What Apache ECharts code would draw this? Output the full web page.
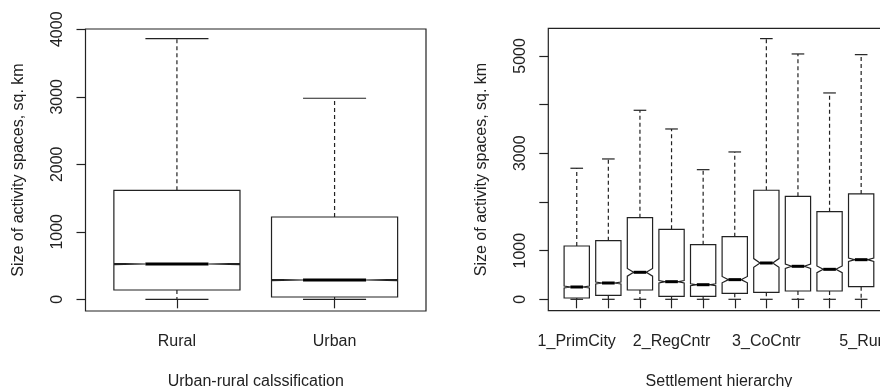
<!DOCTYPE html>
<html>
<head>
<meta charset="utf-8">
<script src="https://cdn.jsdelivr.net/npm/echarts@6/dist/echarts.min.js"></script>
<style>
html,body{margin:0;padding:0;background:#fff;}
#chart{width:880px;height:387px;}
</style>
</head>
<body>
<div id="chart"></div>
<script>
// Left panel: urban-rural classification
const catsLeft = ['Rural', 'Urban'];
const lowLeft = [0, 0];
const q1Left = [138, 34];
const medLeft = [523, 286];
const q3Left = [1615, 1219];
const highLeft = [3861, 2978];
const notchLeft = [10, 8];
const yTicksLeft = [0, 1000, 2000, 3000, 4000];
const yLabelsLeft = [0, 1000, 2000, 3000, 4000];

// Right panel: settlement hierarchy
const catsRight = ['1_PrimCity', '1_PrimSubr', '2_RegCity', '2_RegCntr', '2_RegSubr',
                   '3_CoCity', '3_CoCntr', '4_SmTown', '4_Village', '5_Rur'];
const lowRight = [0, 0, 0, 0, 0, 0, 0, 0, 0, 0];
const q1Right = [27, 82, 191, 62, 62, 123, 144, 171, 171, 259];
const medRight = [253, 335, 555, 362, 300, 404, 746, 678, 616, 814];
const q3Right = [1095, 1204, 1677, 1438, 1122, 1287, 2240, 2116, 1800, 2164];
const highRight = [2692, 2883, 3883, 3499, 2663, 3027, 5355, 5040, 4239, 5026];
const notchRight = [20, 20, 80, 25, 20, 65, 90, 45, 70, 35];
const yTicksRight = [0, 1000, 2000, 3000, 4000, 5000];
const yLabelsRight = [0, 1000, 3000, 5000];
const shownRight = [1, 4, 7, 10];

const FONT = 'Liberation Sans, Arial, sans-serif';
const INK = '#222';

function buildData(low, q1, med, q3, high, notch) {
  return low.map((v, i) => [i + 1, low[i], q1[i], med[i], q3[i], high[i], notch[i]]);
}

function renderBox(params, api) {
  const x = api.value(0);
  const low = api.value(1), q1 = api.value(2), med = api.value(3),
        q3 = api.value(4), high = api.value(5), n = api.value(6);
  const P = (dx, y) => api.coord([x + dx, y]);
  const hw = 0.4, nw = 0.2, cw = 0.2;
  const outline = [P(-hw, q1), P(hw, q1), P(hw, med - n), P(nw, med), P(hw, med + n),
                   P(hw, q3), P(-hw, q3), P(-hw, med + n), P(-nw, med), P(-hw, med - n)];
  const line = (a, b, style) => ({type: 'line', shape: {x1: a[0], y1: a[1], x2: b[0], y2: b[1]}, style});
  const thin = {stroke: INK, lineWidth: 1.2};
  const dash = {stroke: INK, lineWidth: 1.2, lineDash: [4, 3]};
  return {
    type: 'group',
    children: [
      line(P(0, q3), P(0, high), dash),
      line(P(0, q1), P(0, low), dash),
      line(P(-cw, high), P(cw, high), thin),
      line(P(-cw, low), P(cw, low), thin),
      {type: 'polygon', shape: {points: outline}, style: {fill: '#fff', stroke: INK, lineWidth: 1.2}},
      line(P(-nw, med), P(nw, med), {stroke: '#000', lineWidth: 3})
    ]
  };
}

const labelStyle = {fontFamily: FONT, fontSize: 16, color: INK};
const plain = v => String(v);

const option = {
  animation: false,
  backgroundColor: '#fff',
  textStyle: {fontFamily: FONT},
  grid: [
    {left: 85.5, top: 29, width: 340.5, height: 282, show: true, borderColor: INK, borderWidth: 1.2, containLabel: false, outerBoundsMode: 'none'},
    {left: 548.3, top: 28.3, width: 341.3, height: 282.4, show: true, borderColor: INK, borderWidth: 1.2, containLabel: false, outerBoundsMode: 'none'}
  ],
  xAxis: [
    {
      type: 'value', gridIndex: 0, min: 0.42, max: 2.58,
      axisLine: {show: false}, splitLine: {show: false},
      axisTick: {show: true, length: 9, customValues: catsLeft.map((c, i) => i + 1), lineStyle: {color: INK, width: 1.2}},
      axisLabel: Object.assign({customValues: catsLeft.map((c, i) => i + 1), formatter: v => catsLeft[Math.round(v) - 1], margin: 23}, labelStyle),
      name: 'Urban-rural calssification', nameLocation: 'middle', nameGap: 63, nameTextStyle: labelStyle
    },
    {
      type: 'value', gridIndex: 1, min: 0.1, max: 10.9,
      axisLine: {show: false}, splitLine: {show: false},
      axisTick: {show: true, length: 9, customValues: catsRight.map((c, i) => i + 1), lineStyle: {color: INK, width: 1.2}},
      axisLabel: Object.assign({customValues: shownRight, formatter: v => catsRight[Math.round(v) - 1], margin: 23}, labelStyle),
      name: 'Settlement hierarchy', nameLocation: 'middle', nameGap: 63, nameTextStyle: labelStyle
    }
  ],
  yAxis: [
    {
      type: 'value', gridIndex: 0, min: -173, max: 4004,
      axisLine: {show: false}, splitLine: {show: false},
      axisTick: {show: true, length: 9, customValues: yTicksLeft, lineStyle: {color: INK, width: 1.2}},
      axisLabel: Object.assign({customValues: yLabelsLeft, formatter: plain, rotate: 90, margin: 20}, labelStyle),
      name: 'Size of activity spaces, sq. km', nameLocation: 'middle', nameGap: 59, nameTextStyle: labelStyle
    },
    {
      type: 'value', gridIndex: 1, min: -234, max: 5567,
      axisLine: {show: false}, splitLine: {show: false},
      axisTick: {show: true, length: 9, customValues: yTicksRight, lineStyle: {color: INK, width: 1.2}},
      axisLabel: Object.assign({customValues: yLabelsRight, formatter: plain, rotate: 90, margin: 20}, labelStyle),
      name: 'Size of activity spaces, sq. km', nameLocation: 'middle', nameGap: 59, nameTextStyle: labelStyle
    }
  ],
  series: [
    {
      type: 'custom', xAxisIndex: 0, yAxisIndex: 0,
      data: buildData(lowLeft, q1Left, medLeft, q3Left, highLeft, notchLeft),
      encode: {x: 0, y: [1, 2, 3, 4, 5]},
      renderItem: renderBox
    },
    {
      type: 'custom', xAxisIndex: 1, yAxisIndex: 1,
      data: buildData(lowRight, q1Right, medRight, q3Right, highRight, notchRight),
      encode: {x: 0, y: [1, 2, 3, 4, 5]},
      renderItem: renderBox
    }
  ]
};

const chart = echarts.init(document.getElementById('chart'), null, {renderer: 'canvas'});
chart.setOption(option);
</script>
</body>
</html>
